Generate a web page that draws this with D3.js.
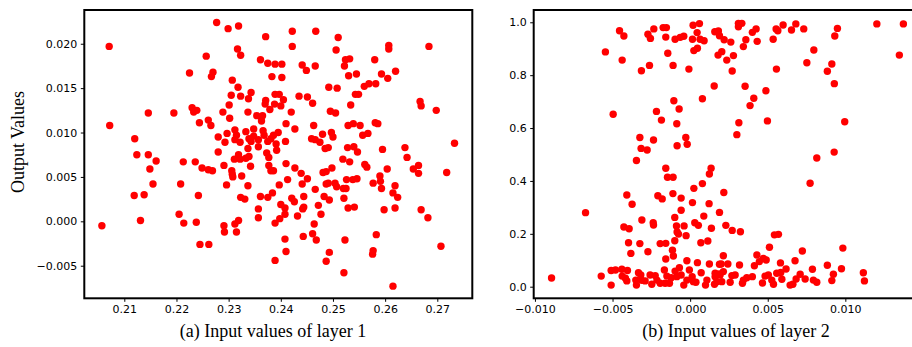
<!DOCTYPE html>
<html>
<head>
<meta charset="utf-8">
<script src="https://cdn.jsdelivr.net/npm/d3@7"></script>
<style>
  body { margin: 0; background: #fff; }
  svg { display: block; }
</style>
</head>
<body>
<svg id="chart" width="912" height="347"></svg>
<script>
// (x, y) pairs
const layer1 = [
  [0.2277,0.0224],[0.2299,0.0217],[0.2319,0.0220],[0.2371,0.0208],[0.2071,0.0197],[0.2317,0.0194],
  [0.2323,0.0187],[0.2257,0.0186],[0.2361,0.0182],[0.2375,0.0178],[0.2389,0.0177],[0.2225,0.0167],
  [0.2270,0.0168],[0.2267,0.0163],[0.2383,0.0163],[0.2307,0.0159],[0.2318,0.0151],[0.2343,0.0145],
  [0.2305,0.0142],[0.2323,0.0141],[0.2338,0.0138],[0.2389,0.0143],[0.2371,0.0136],[0.2370,0.0132],
  [0.2379,0.0126],[0.2301,0.0131],[0.2146,0.0122],[0.2195,0.0122],[0.2230,0.0128],[0.2233,0.0123],
  [0.2239,0.0125],[0.2289,0.0123],[0.2337,0.0123],[0.2354,0.0119],[0.2365,0.0119],[0.2363,0.0113],
  [0.2302,0.0116],[0.2072,0.0108],[0.2244,0.0111],[0.2261,0.0114],[0.2266,0.0108],[0.2120,0.0093],
  [0.2280,0.0095],[0.2297,0.0099],[0.2312,0.0103],[0.2293,0.0089],[0.2315,0.0097],[0.2312,0.0092],
  [0.2322,0.0089],[0.2333,0.0101],[0.2339,0.0093],[0.2348,0.0104],[0.2348,0.0096],[0.2357,0.0092],
  [0.2366,0.0102],[0.2368,0.0097],[0.2375,0.0090],[0.2357,0.0084],[0.2343,0.0090],[0.2337,0.0082],
  [0.2381,0.0093],[0.2124,0.0075],[0.2146,0.0075],[0.2280,0.0078],[0.2319,0.0075],[0.2373,0.0077],
  [0.2422,0.0214],[0.2467,0.0214],[0.2510,0.0207],[0.2422,0.0197],[0.2506,0.0193],[0.2607,0.0198],
  [0.2607,0.0194],[0.2684,0.0197],[0.2402,0.0177],[0.2441,0.0176],[0.2449,0.0170],[0.2466,0.0175],
  [0.2524,0.0182],[0.2532,0.0183],[0.2522,0.0175],[0.2580,0.0182],[0.2402,0.0162],[0.2530,0.0164],
  [0.2545,0.0166],[0.2593,0.0166],[0.2605,0.0161],[0.2620,0.0169],[0.2492,0.0151],[0.2508,0.0150],
  [0.2560,0.0152],[0.2569,0.0155],[0.2582,0.0155],[0.2397,0.0143],[0.2435,0.0141],[0.2451,0.0140],
  [0.2461,0.0133],[0.2543,0.0143],[0.2549,0.0143],[0.2534,0.0131],[0.2388,0.0132],[0.2405,0.0137],
  [0.2400,0.0130],[0.2420,0.0123],[0.2495,0.0124],[0.2505,0.0122],[0.2667,0.0135],[0.2669,0.0130],
  [0.2698,0.0125],[0.2410,0.0110],[0.2427,0.0104],[0.2463,0.0108],[0.2529,0.0108],[0.2539,0.0110],
  [0.2552,0.0108],[0.2581,0.0111],[0.2586,0.0110],[0.2395,0.0100],[0.2386,0.0097],[0.2459,0.0093],
  [0.2466,0.0092],[0.2475,0.0089],[0.2480,0.0098],[0.2497,0.0100],[0.2500,0.0095],[0.2557,0.0097],
  [0.2567,0.0099],[0.2391,0.0087],[0.2409,0.0090],[0.2392,0.0080],[0.2485,0.0082],[0.2491,0.0083],
  [0.2528,0.0083],[0.2540,0.0084],[0.2547,0.0078],[0.2595,0.0081],[0.2638,0.0083],
  [0.2161,0.0068],[0.2149,0.0059],[0.2155,0.0042],[0.2119,0.0029],[0.2138,0.0030],[0.2131,0.0001],
  [0.2057,-0.0005],[0.2213,0.0067],[0.2236,0.0067],[0.2249,0.0060],[0.2261,0.0058],[0.2269,0.0057],
  [0.2291,0.0063],[0.2208,0.0042],[0.2242,0.0029],[0.2296,0.0041],[0.2306,0.0057],[0.2307,0.0053],
  [0.2308,0.0050],[0.2325,0.0051],[0.2337,0.0040],[0.2311,0.0070],[0.2322,0.0070],[0.2333,0.0071],
  [0.2339,0.0073],[0.2342,0.0062],[0.2377,0.0072],[0.2377,0.0063],[0.2381,0.0057],[0.2323,0.0027],
  [0.2331,0.0025],[0.2361,0.0028],[0.2375,0.0027],[0.2384,0.0032],[0.2357,0.0014],[0.2357,0.0004],
  [0.2205,0.0008],[0.2214,-0.0002],[0.2238,-0.0001],[0.2291,-0.0005],[0.2292,-0.0012],[0.2312,-0.0003],
  [0.2319,0.0001],[0.2315,-0.0012],[0.2245,-0.0026],[0.2262,-0.0026],[0.2389,-0.0002],[0.2389,-0.0044],
  [0.2642,0.0072],[0.2410,0.0065],[0.2427,0.0060],[0.2439,0.0054],[0.2451,0.0048],[0.2386,0.0057],
  [0.2413,0.0047],[0.2397,0.0041],[0.2421,0.0026],[0.2426,0.0022],[0.2400,0.0019],[0.2408,0.0015],
  [0.2408,0.0008],[0.2398,0.0003],[0.2432,0.0006],[0.2441,0.0042],[0.2444,0.0028],[0.2444,0.0016],
  [0.2442,0.0014],[0.2466,0.0036],[0.2472,0.0018],[0.2477,0.0008],[0.2464,-0.0003],[0.2461,-0.0014],
  [0.2468,-0.0021],[0.2443,-0.0017],[0.2408,-0.0020],[0.2410,-0.0034],[0.2481,0.0055],[0.2487,0.0056],
  [0.2498,0.0060],[0.2487,0.0042],[0.2491,0.0043],[0.2483,0.0028],[0.2493,0.0024],[0.2504,0.0043],
  [0.2507,0.0039],[0.2520,0.0037],[0.2525,0.0037],[0.2519,0.0070],[0.2532,0.0067],[0.2526,0.0047],
  [0.2538,0.0047],[0.2546,0.0048],[0.2521,0.0026],[0.2529,0.0015],[0.2541,0.0016],[0.2523,-0.0021],
  [0.2493,-0.0035],[0.2487,-0.0045],[0.2521,-0.0058],[0.2561,0.0064],[0.2565,0.0061],[0.2577,0.0043],
  [0.2590,0.0051],[0.2591,0.0045],[0.2593,0.0037],[0.2604,0.0059],[0.2619,0.0040],[0.2615,0.0032],
  [0.2624,0.0027],[0.2619,0.0015],[0.2598,0.0013],[0.2583,-0.0015],[0.2577,-0.0033],[0.2576,-0.0037],
  [0.2615,-0.0073],[0.2654,0.0059],[0.2664,0.0063],[0.2664,0.0054],[0.2669,0.0013],[0.2682,0.0004],
  [0.2707,-0.0028],[0.2718,0.0055],[0.2733,0.0088]
];

const layer2 = [
  [-0.00455,0.968],[-0.00427,0.948],[-0.00272,0.955],[-0.00256,0.939],[-0.00234,0.975],[-0.00174,0.980],
  [-0.00153,0.980],[-0.00157,0.944],[-0.00097,0.936],[-0.00064,0.943],[-0.00041,0.947],[0.00015,0.936],
  [0.00019,0.989],[0.00060,0.995],[0.00045,0.961],[0.00064,0.936],[0.00090,0.930],[0.00024,0.893],
  [0.00047,0.902],[0.00159,0.964],[0.00182,0.967],[0.00180,0.876],[-0.00546,0.888],[-0.00438,0.857],
  [-0.00262,0.837],[-0.00314,0.817],[-0.00144,0.883],[-0.00110,0.837],[-0.00008,0.823],[0.00155,0.759],
  [0.00079,0.711],[-0.00496,0.652],[-0.00105,0.703],[-0.00071,0.672],[-0.00217,0.663],[-0.00185,0.630],
  [-0.00086,0.616],[-0.00324,0.564],[-0.00316,0.523],[-0.00277,0.517],[-0.00236,0.555],[-0.00084,0.533],
  [-0.00028,0.564],[-0.00019,0.539],
  [0.00311,0.996],[0.00333,0.996],[0.00311,0.983],[0.00189,0.949],[0.00219,0.934],[0.00262,0.925],
  [0.00359,0.934],[0.00343,0.908],[0.00401,0.962],[0.00425,0.975],[0.00432,0.928],[0.00554,0.975],
  [0.00565,0.968],[0.00599,0.990],[0.00535,0.936],[0.00653,0.971],[0.00681,0.994],[0.00732,0.975],
  [0.00949,0.977],[0.00932,0.948],[0.01203,0.994],[0.01374,0.994],[0.01348,0.876],[0.00797,0.895],
  [0.00752,0.847],[0.00913,0.842],[0.00884,0.815],[0.00929,0.768],[0.00204,0.889],[0.00279,0.874],
  [0.00236,0.857],[0.00271,0.816],[0.00556,0.823],[0.00354,0.758],[0.00410,0.713],[0.00386,0.685],
  [0.00488,0.741],[0.00314,0.620],[0.00301,0.575],[0.00498,0.627],[0.00996,0.624],[0.00928,0.509],
  [0.00984,0.146],[0.00884,0.081],[0.00923,0.047],[0.00913,0.023],[0.00975,0.068],[0.01116,0.053],
  [0.01123,0.022],
  [-0.00346,0.477],[-0.00157,0.448],[-0.00146,0.414],[-0.00110,0.414],[0.00135,0.448],[0.00124,0.426],
  [0.00079,0.390],[0.00024,0.372],[-0.00408,0.347],[-0.00374,0.312],[-0.00208,0.344],[-0.00180,0.332],
  [-0.00111,0.352],[-0.00058,0.335],[0.00015,0.318],[0.00122,0.314],[-0.00058,0.289],[-0.00099,0.262],
  [0.00088,0.267],[0.00189,0.281],[-0.00674,0.280],[-0.00427,0.226],[-0.00393,0.219],[-0.00311,0.252],
  [-0.00238,0.242],[-0.00236,0.233],[-0.00088,0.230],[-0.00039,0.230],[0.00030,0.242],[0.00053,0.232],
  [0.00137,0.221],[-0.00084,0.207],[-0.00075,0.199],[-0.00026,0.193],[-0.00397,0.166],[-0.00324,0.163],
  [-0.00193,0.163],[-0.00157,0.164],[-0.00099,0.174],[0.00069,0.166],[0.00114,0.173],[-0.00382,0.126],
  [-0.00272,0.132],[-0.00114,0.138],[-0.00108,0.116],[-0.00157,0.105],[-0.00021,0.098],[0.00047,0.091],
  [0.00124,0.086],[-0.00893,0.033],[-0.00573,0.040],[-0.00509,0.061],[-0.00481,0.063],[-0.00440,0.066],
  [-0.00404,0.061],[-0.00438,0.040],[-0.00417,0.032],[-0.00408,0.022],[-0.00509,0.006],[-0.00333,0.053],
  [-0.00346,0.006],[-0.00311,0.024],[-0.00258,0.044],[-0.00225,0.042],[-0.00247,0.009],[-0.00193,0.013],
  [-0.00166,0.063],[-0.00150,0.040],[-0.00133,0.013],[-0.00097,0.059],[-0.00069,0.072],[-0.00058,0.044],
  [-0.00041,0.006],[-0.00021,0.025],[-0.00005,0.063],[0.00013,0.038],[0.00037,0.017],[0.00071,0.053],
  [0.00108,0.025],[0.00161,0.038],[0.00157,0.009],[0.00187,0.048],[-0.00290,0.022],[-0.00214,0.025],
  [-0.00122,0.034],[-0.00086,0.038],[-0.00350,0.025],[-0.00318,0.044],[-0.00161,0.013],[0.00021,0.019],
  [0.00099,0.006],[0.00189,0.085],
  [0.00217,0.356],[0.00230,0.232],[0.00271,0.213],[0.00324,0.208],[0.00773,0.391],[0.00816,0.487],
  [0.00543,0.196],[0.00569,0.198],[0.00511,0.149],[0.00723,0.135],[0.00214,0.117],[0.00430,0.120],
  [0.00472,0.107],[0.00446,0.095],[0.00490,0.101],[0.00676,0.098],[0.00582,0.090],[0.00200,0.086],
  [0.00243,0.086],[0.00318,0.082],[0.00414,0.079],[0.00618,0.067],[0.00788,0.066],[0.00161,0.051],
  [0.00193,0.044],[0.00214,0.057],[0.00172,0.019],[0.00204,0.019],[0.00269,0.042],[0.00290,0.044],
  [0.00258,0.017],[0.00337,0.013],[0.00343,0.025],[0.00365,0.034],[0.00401,0.038],[0.00466,0.014],
  [0.00483,0.040],[0.00504,0.044],[0.00526,0.025],[0.00537,0.009],[0.00558,0.051],[0.00584,0.054],
  [0.00591,0.028],[0.00644,0.006],[0.00662,0.009],[0.00683,0.029],[0.00709,0.047],[0.00741,0.029],
  [0.00794,0.025],[0.00816,0.017]
];

const layer1XTicks = [0.21, 0.22, 0.23, 0.24, 0.25, 0.26, 0.27];
const layer1YTicks = [-0.005, 0, 0.005, 0.010, 0.015, 0.020];
const layer2XTicks = [-0.010, -0.005, 0, 0.005, 0.010];
const layer2YTicks = [0, 0.2, 0.4, 0.6, 0.8, 1.0];
const captions = ['(a) Input values of layer 1', '(b) Input values of layer 2'];
const yLabel = 'Output Values';

const plotTop = 10, plotBottom = 298.3, panelW = 388;
const tickFont = 'DejaVu Sans, sans-serif';
const serif = 'Liberation Serif, Times New Roman, serif';

const svg = d3.select('#chart');

function drawPanel(cfg) {
  const x = d3.scaleLinear().domain(cfg.xDomain).range([cfg.left, cfg.left + panelW]);
  const y = d3.scaleLinear().domain(cfg.yDomain).range([plotBottom, plotTop]);
  const g = svg.append('g');

  g.append('g')
      .attr('transform', `translate(0,${plotBottom})`)
      .call(d3.axisBottom(x).tickValues(cfg.xTicks).tickFormat(d3.format(cfg.xFmt))
        .tickSize(3.5).tickPadding(3.5))
      .call(a => a.select('.domain').remove());

  g.append('g')
      .attr('transform', `translate(${cfg.left},0)`)
      .call(d3.axisLeft(y).tickValues(cfg.yTicks).tickFormat(d3.format(cfg.yFmt))
        .tickSize(3.5).tickPadding(3.5))
      .call(a => a.select('.domain').remove());

  g.selectAll('.tick text')
      .attr('font-family', tickFont)
      .attr('font-size', 11)
      .attr('fill', '#000');
  g.selectAll('.tick line')
      .attr('stroke', '#000')
      .attr('stroke-width', 1);

  g.append('g')
    .selectAll('circle')
    .data(cfg.data)
    .join('circle')
      .attr('cx', d => x(d[0]))
      .attr('cy', d => y(d[1]))
      .attr('r', 3.7)
      .attr('fill', '#ff0000');

  g.append('rect')
      .attr('x', cfg.left)
      .attr('y', plotTop)
      .attr('width', panelW)
      .attr('height', plotBottom - plotTop)
      .attr('fill', 'none')
      .attr('stroke', '#000')
      .attr('stroke-width', 2);

  g.append('text')
      .attr('x', cfg.captionX)
      .attr('y', 337)
      .attr('text-anchor', 'middle')
      .attr('font-family', serif)
      .attr('font-size', 18)
      .text(cfg.caption);
}

drawPanel({
  left: 84.3, data: layer1,
  xDomain: [0.20233, 0.27671], yDomain: [-0.00867, 0.02380],
  xTicks: layer1XTicks, yTicks: layer1YTicks, xFmt: '.2f', yFmt: '.3f',
  caption: captions[0], captionX: 273
});

drawPanel({
  left: 533.7, data: layer2,
  xDomain: [-0.01008, 0.01492], yDomain: [-0.0439, 1.0465],
  xTicks: layer2XTicks, yTicks: layer2YTicks, xFmt: '.3f', yFmt: '.1f',
  caption: captions[1], captionX: 736
});

svg.append('text')
    .attr('transform', 'translate(24,142) rotate(-90)')
    .attr('text-anchor', 'middle')
    .attr('font-family', serif)
    .attr('font-size', 18)
    .text(yLabel);
</script>
</body>
</html>
